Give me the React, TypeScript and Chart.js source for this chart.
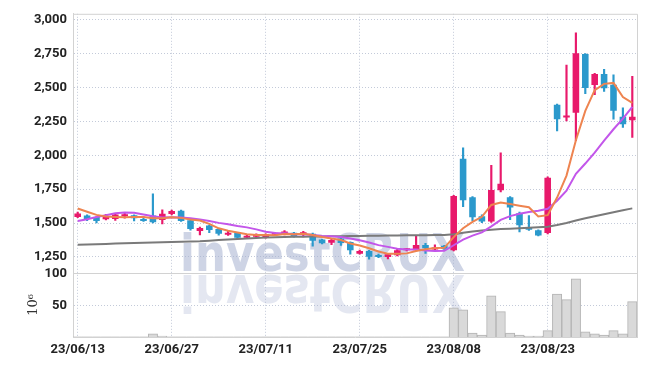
import { useEffect, useRef } from 'react';
import { Chart, registerables } from 'chart.js';

Chart.register(...registerables);

const dates = [
  '23/06/13', '23/06/14', '23/06/15', '23/06/16', '23/06/19', '23/06/20', '23/06/21', '23/06/22', '23/06/23', '23/06/26',
  '23/06/27', '23/06/28', '23/06/29', '23/06/30', '23/07/03', '23/07/04', '23/07/05', '23/07/06', '23/07/07', '23/07/10',
  '23/07/11', '23/07/12', '23/07/13', '23/07/14', '23/07/17', '23/07/18', '23/07/19', '23/07/20', '23/07/21', '23/07/24',
  '23/07/25', '23/07/26', '23/07/27', '23/07/28', '23/07/31', '23/08/01', '23/08/02', '23/08/03', '23/08/04', '23/08/07',
  '23/08/08', '23/08/09', '23/08/10', '23/08/11', '23/08/14', '23/08/16', '23/08/17', '23/08/18', '23/08/21', '23/08/22',
  '23/08/23', '23/08/24', '23/08/25', '23/08/28', '23/08/29', '23/08/30', '23/08/31', '23/09/01', '23/09/04', '23/09/05',
];

const opens = [
  1545, 1556, 1545, 1527, 1530, 1550, 1557, 1522, 1555, 1522,
  1566, 1590, 1520, 1442, 1481, 1456, 1413, 1427, 1391, 1398,
  1391, 1413, 1415, 1428, 1413, 1420, 1379, 1355, 1386, 1360,
  1274, 1294, 1262, 1250, 1262, 1300, 1300, 1337, 1305, 1332,
  1300, 1975, 1690, 1550, 1512, 1741, 1690, 1573, 1461, 1447,
  1427, 2373, 2278, 2314, 2747, 2519, 2599, 2521, 2285, 2258,
];

const highs = [
  1580, 1560, 1548, 1565, 1570, 1575, 1560, 1545, 1715, 1598,
  1595, 1595, 1522, 1470, 1485, 1460, 1440, 1430, 1410, 1420,
  1420, 1428, 1445, 1432, 1438, 1425, 1382, 1385, 1390, 1362,
  1300, 1298, 1270, 1275, 1305, 1312, 1405, 1350, 1340, 1335,
  1705, 2055, 1695, 1560, 1925, 2018, 1695, 1580, 1555, 1450,
  1840, 2378, 2666, 2903, 2750, 2605, 2635, 2594, 2351, 2582,
];

const lows = [
  1540, 1518, 1500, 1522, 1520, 1535, 1515, 1512, 1500, 1493,
  1560, 1512, 1448, 1412, 1428, 1410, 1408, 1385, 1388, 1393,
  1388, 1410, 1412, 1395, 1398, 1330, 1345, 1340, 1335, 1270,
  1270, 1233, 1245, 1235, 1258, 1295, 1295, 1275, 1295, 1305,
  1295, 1620, 1518, 1503, 1505, 1730, 1525, 1435, 1445, 1405,
  1420, 2180, 2254, 2108, 2455, 2448, 2472, 2266, 2205, 2132,
];

const closes = [
  1570, 1529, 1515, 1549, 1563, 1557, 1535, 1515, 1505, 1568,
  1588, 1515, 1456, 1464, 1448, 1420, 1427, 1391, 1405, 1415,
  1418, 1422, 1437, 1398, 1432, 1369, 1350, 1374, 1352, 1300,
  1294, 1252, 1250, 1270, 1300, 1308, 1337, 1313, 1318, 1310,
  1700, 1668, 1542, 1512, 1743, 1789, 1615, 1483, 1450, 1408,
  1835, 2266, 2292, 2752, 2497, 2599, 2494, 2329, 2229, 2285,
];

// volume in millions (10^6)
const volumes = [
  0.4, 0.3, 0.3, 0.4, 0.3, 0.3, 0.3, 0.3, 5, 1.5,
  0.4, 0.3, 0.3, 0.3, 0.3, 0.3, 0.2, 0.3, 0.2, 0.2,
  0.2, 0.2, 0.3, 0.2, 0.2, 0.3, 0.3, 0.2, 0.2, 0.3,
  0.2, 0.3, 0.2, 0.2, 0.3, 0.2, 0.4, 0.3, 0.2, 0.2,
  46, 43, 6, 3, 65, 40, 6, 3, 1.5, 1.5,
  10, 68, 59, 92, 8, 5, 3, 10, 5, 56,
];

const ma5 = [
  1607, 1583, 1560, 1548, 1545, 1543, 1544, 1544, 1535, 1536,
  1542, 1538, 1526, 1518, 1494, 1461, 1443, 1430, 1418, 1412,
  1411, 1410, 1419, 1418, 1421, 1412, 1397, 1385, 1375, 1349,
  1334, 1314, 1290, 1273, 1273, 1276, 1293, 1306, 1315, 1317,
  1396, 1462, 1508, 1546, 1633, 1651, 1640, 1628, 1616, 1549,
  1558, 1688, 1850, 2111, 2328, 2481, 2527, 2534, 2430, 2387,
];

const ma10 = [
  1515, 1528, 1545, 1558, 1572, 1578, 1575, 1563, 1550, 1541,
  1542, 1541, 1535, 1527, 1515, 1501, 1491, 1478, 1468, 1453,
  1436, 1427, 1425, 1418, 1417, 1411, 1404, 1402, 1397, 1385,
  1373, 1356, 1337, 1324, 1311, 1305, 1304, 1298, 1294, 1295,
  1336, 1377, 1407, 1431, 1475, 1523, 1551, 1568, 1581, 1591,
  1605, 1664, 1739, 1863, 1939, 2020, 2108, 2192, 2270, 2358,
];

const ma60 = [
  1340, 1342, 1344, 1346, 1348, 1350, 1352, 1354, 1356, 1358,
  1360, 1362, 1364, 1366, 1370, 1374, 1378, 1382, 1386, 1390,
  1393, 1395, 1397, 1398, 1399, 1400, 1401, 1402, 1403, 1404,
  1405, 1406, 1407, 1408, 1408, 1409, 1410, 1410, 1411, 1412,
  1418, 1428, 1438, 1444, 1450, 1455, 1458, 1462, 1465, 1468,
  1472, 1485, 1500, 1518, 1535, 1550, 1565, 1580, 1595, 1608,
];

const priceTicks = [1250, 1500, 1750, 2000, 2250, 2500, 2750, 3000];
const volumeTicks = [50, 100];
const labelEvery = 10;
const watermarkText = 'investCRUX';
const volumeUnit = '10⁶';

export default function App() {
  const ref = useRef<HTMLCanvasElement>(null);

  useEffect(() => {
    const canvas = ref.current;
    if (!canvas) return;
    const up = '#e8196b';
    const down = '#2b99cc';
    const gridColor = '#c3cad9';
    const frameColor = '#d2d2d2';
    const tickFont = {
      family: "Roboto, 'DejaVu Sans Condensed', sans-serif",
      size: 13,
      weight: 'bold' as const,
    };
    const bodyColors = opens.map((o, i) => (closes[i] >= o ? up : down));

    const decor = {
      id: 'decor',
      beforeDatasetsDraw(chart: any) {
        const { ctx, chartArea } = chart;
        const yv = chart.scales.yv;
        ctx.save();
        ctx.font = 'bold 51px "DejaVu Sans", sans-serif';
        const w = ctx.measureText(watermarkText).width;
        const sx = 285 / w;
        ctx.textBaseline = 'alphabetic';
        ctx.save();
        ctx.translate(180, 271);
        ctx.scale(sx, 1);
        ctx.fillStyle = 'rgba(165,176,208,0.55)';
        ctx.fillText(watermarkText, 0, 0);
        ctx.restore();
        ctx.save();
        ctx.translate(180, 275);
        ctx.scale(sx, -1);
        ctx.fillStyle = 'rgba(165,176,208,0.3)';
        ctx.fillText(watermarkText, 0, 0);
        ctx.restore();
        // frame
        ctx.strokeStyle = frameColor;
        ctx.lineWidth = 1;
        ctx.beginPath();
        ctx.moveTo(chartArea.left, chartArea.top + 0.5);
        ctx.lineTo(chartArea.right + 0.5, chartArea.top + 0.5);
        ctx.lineTo(chartArea.right + 0.5, chartArea.bottom);
        ctx.moveTo(chartArea.left, Math.round(yv.top) + 0.5);
        ctx.lineTo(chartArea.right, Math.round(yv.top) + 0.5);
        ctx.stroke();
        ctx.restore();
      },
    };

    const chart = new Chart(canvas, {
      type: 'bar',
      data: {
        labels: dates,
        datasets: [
          {
            type: 'line',
            label: 'MA5',
            data: ma5,
            borderColor: '#ee8450',
            borderWidth: 2,
            pointRadius: 0,
            yAxisID: 'y',
            order: 0,
          },
          {
            type: 'line',
            label: 'MA10',
            data: ma10,
            borderColor: '#c356ea',
            borderWidth: 2,
            pointRadius: 0,
            yAxisID: 'y',
            order: 0,
          },
          {
            type: 'line',
            label: 'MA60',
            data: ma60,
            borderColor: '#7a7a7a',
            borderWidth: 2,
            pointRadius: 0,
            yAxisID: 'y',
            order: 0,
          },
          {
            type: 'bar',
            label: 'body',
            data: opens.map((o, i) => [o, closes[i]]),
            backgroundColor: bodyColors,
            barPercentage: 0.7,
            categoryPercentage: 1,
            grouped: false,
            minBarLength: 2,
            yAxisID: 'y',
            order: 1,
          },
          {
            type: 'bar',
            label: 'wick',
            data: lows.map((l, i) => [l, highs[i]]),
            backgroundColor: bodyColors,
            barThickness: 1.5,
            grouped: false,
            yAxisID: 'y',
            order: 2,
          },
          {
            type: 'bar',
            label: 'volume',
            data: volumes,
            backgroundColor: '#d9d9d9',
            borderColor: '#b3b3b3',
            borderWidth: 1,
            barPercentage: 1,
            categoryPercentage: 1,
            grouped: false,
            yAxisID: 'yv',
            order: 3,
          },
        ] as any,
      },
      options: {
        responsive: false,
        animation: false,
        devicePixelRatio: 1,
        layout: { padding: { left: 0, right: 10, top: 10, bottom: 0 } },
        plugins: {
          legend: { display: false },
          tooltip: { enabled: false },
        },
        scales: {
          x: {
            type: 'category',
            offset: true,
            grid: {
              offset: false,
              drawTicks: false,
              color: (c: any) => (c.index % labelEvery === 0 ? gridColor : 'transparent'),
            },
            border: { color: frameColor, dash: [1, 2] },
            ticks: {
              autoSkip: false,
              maxRotation: 0,
              padding: 5,
              color: '#222',
              font: tickFont,
              callback: (_v: any, i: number) => (i % labelEvery === 0 ? dates[i] : ''),
            },
            afterFit: (s: any) => {
              s.height = 29;
            },
          },
          yv: {
            type: 'linear',
            position: 'left',
            stack: 'panes',
            stackWeight: 65,
            min: 0,
            max: 101.5,
            afterBuildTicks: (s: any) => {
              s.ticks = volumeTicks.map((v) => ({ value: v }));
            },
            afterFit: (s: any) => {
              s.width = 73;
            },
            grid: { color: gridColor, drawTicks: false },
            border: { color: frameColor, dash: [1, 2] },
            title: {
              display: true,
              text: volumeUnit,
              color: '#333',
              font: { family: "'DejaVu Serif', serif", size: 13 },
              padding: { top: 26, bottom: 0 },
            },
            ticks: {
              padding: 6,
              color: '#222',
              font: tickFont,
              callback: (v: any) => Number(v).toLocaleString('en-US'),
            },
          },
          y: {
            type: 'linear',
            position: 'left',
            stack: 'panes',
            stackWeight: 262,
            min: 1133,
            max: 3044,
            afterBuildTicks: (s: any) => {
              s.ticks = priceTicks.map((v) => ({ value: v }));
            },
            afterFit: (s: any) => {
              s.width = 73;
            },
            grid: { color: gridColor, drawTicks: false },
            border: { color: frameColor, dash: [1, 2] },
            ticks: {
              padding: 6,
              color: '#222',
              font: tickFont,
              callback: (v: any) => Number(v).toLocaleString('en-US'),
            },
          },
        },
      } as any,
      plugins: [decor],
    });

    return () => chart.destroy();
  }, []);

  return (
    <div style={{ position: 'fixed', left: 0, top: 0, width: 647, height: 366, background: '#fff' }}>
      <canvas ref={ref} width={647} height={366} style={{ width: 647, height: 366 }} />
    </div>
  );
}
